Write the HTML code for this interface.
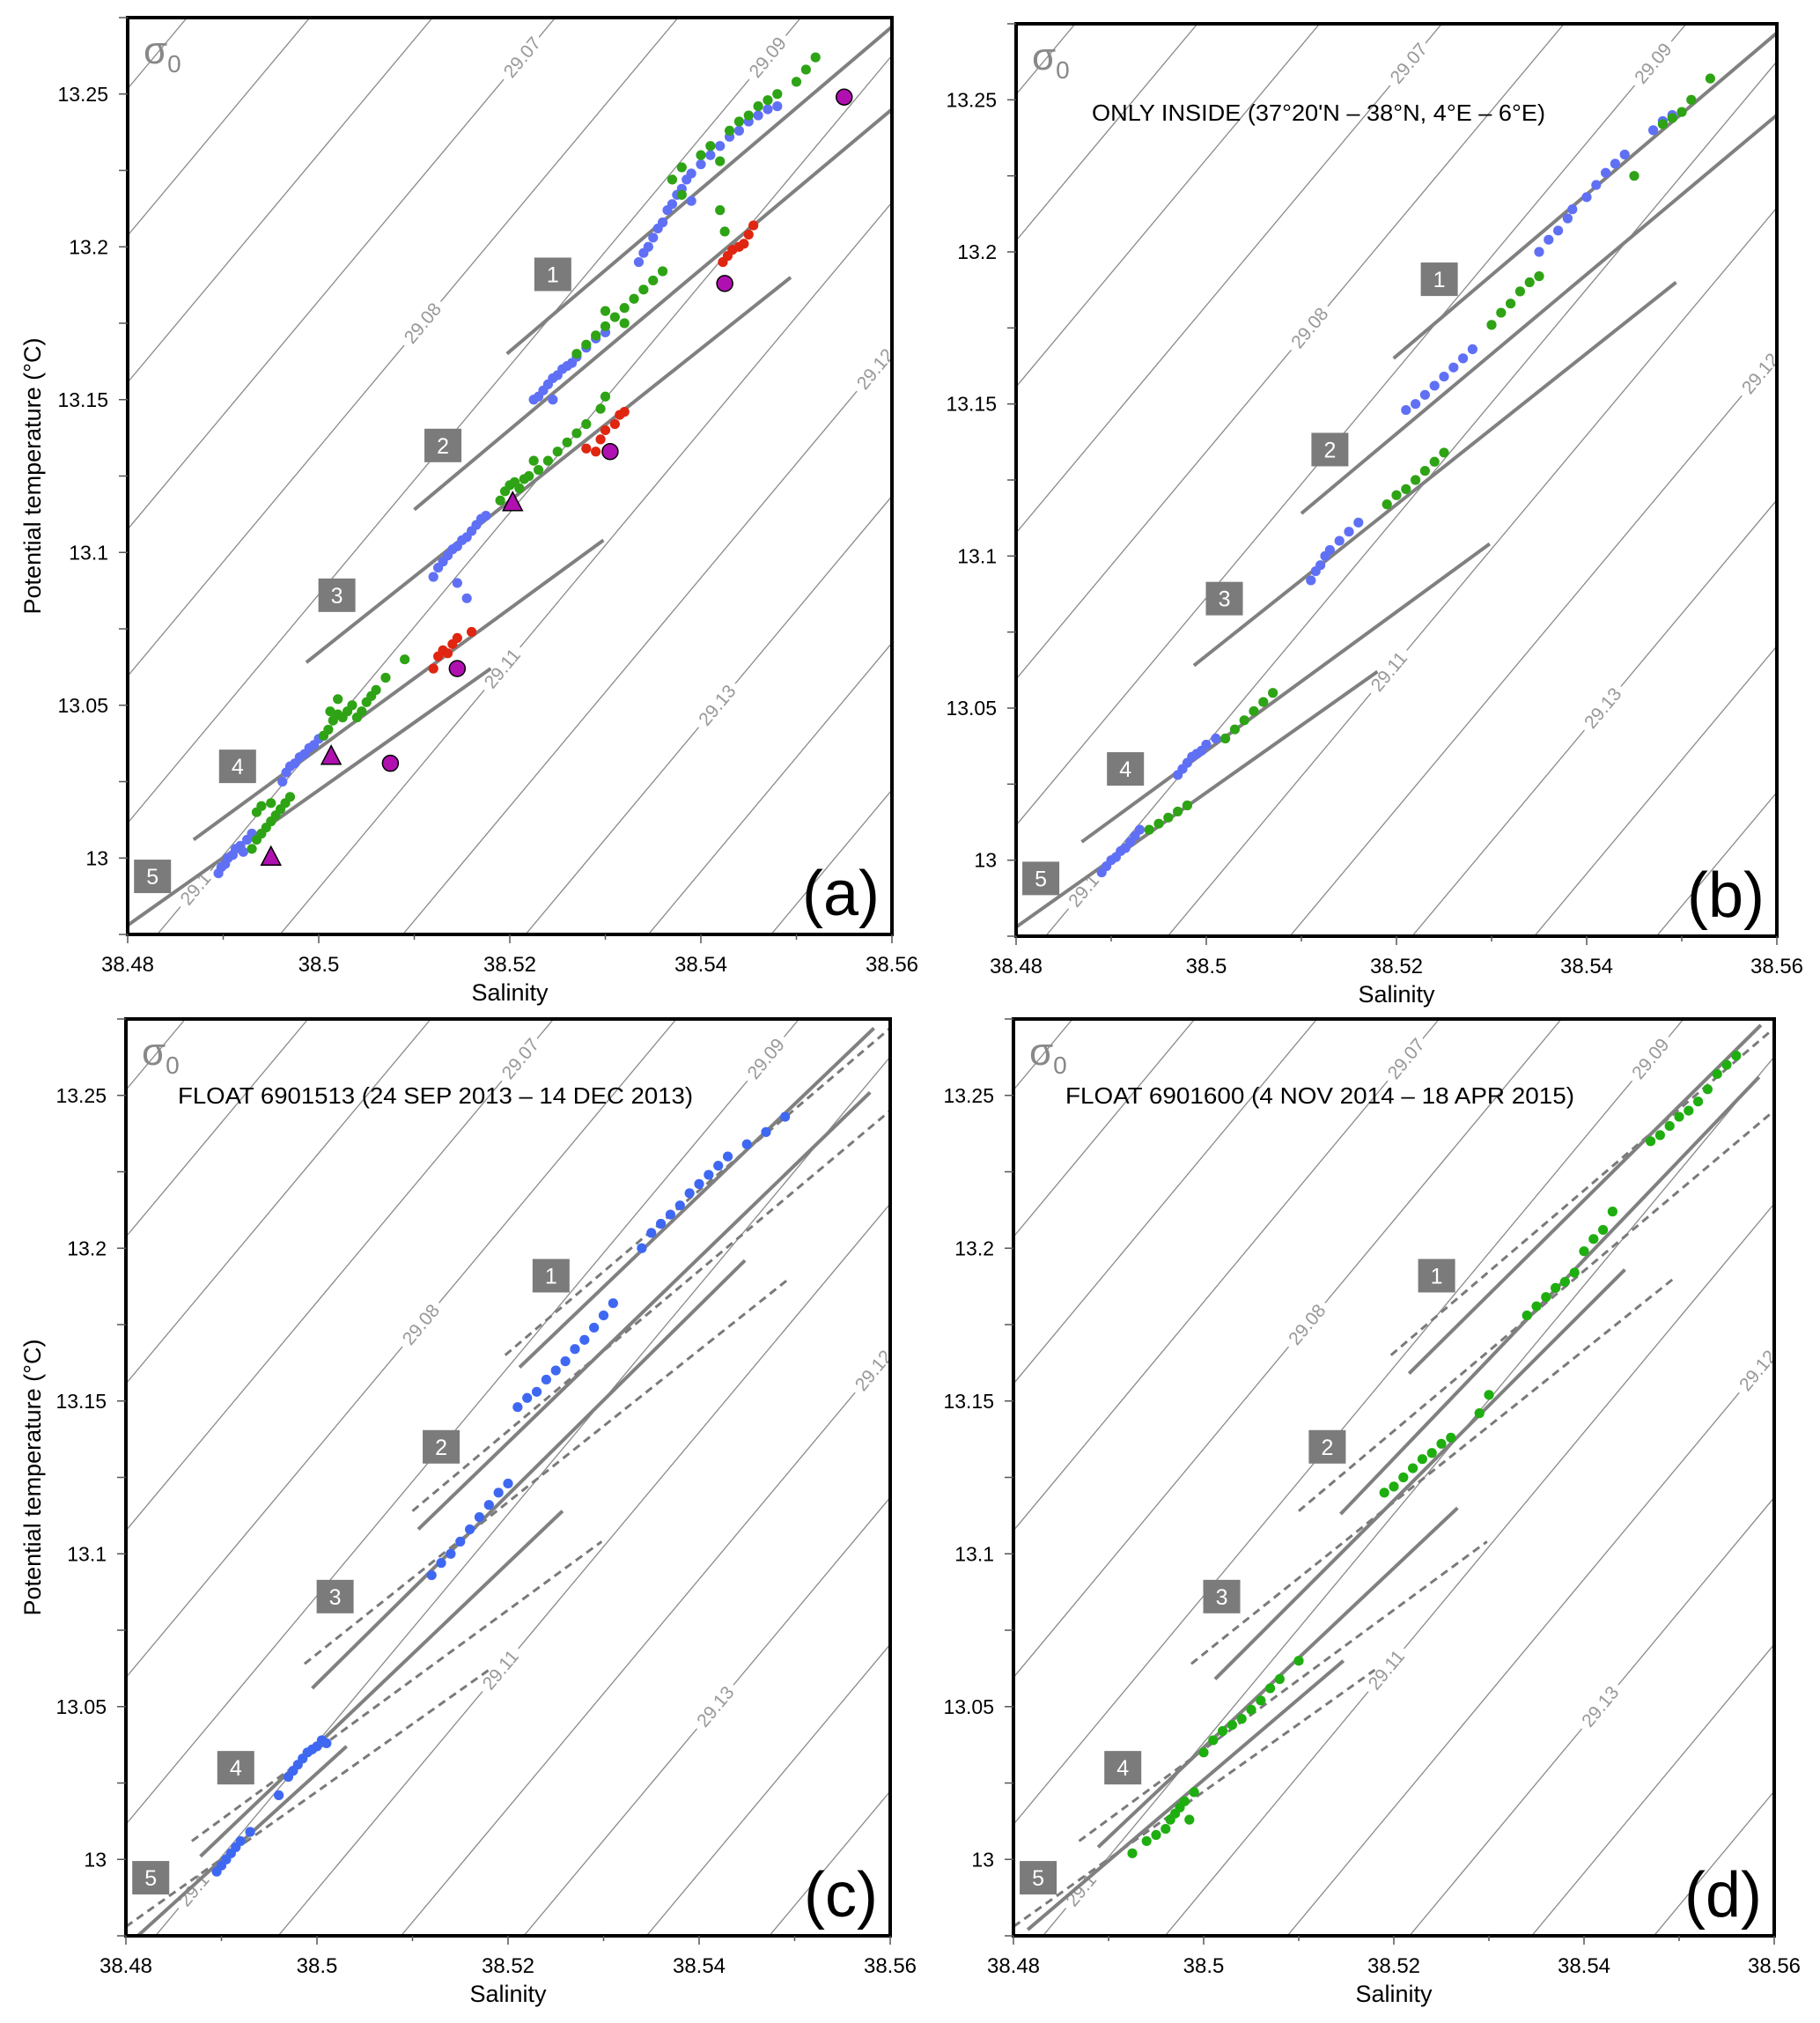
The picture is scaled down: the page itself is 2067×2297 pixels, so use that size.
<!DOCTYPE html>
<html><head><meta charset="utf-8">
<style>
html,body{margin:0;padding:0;background:#fff;}
svg{display:block;font-family:"Liberation Sans","DejaVu Sans",sans-serif;}
</style></head>
<body>
<svg id="fig" width="2067" height="2297" viewBox="0 0 2067 2297" xmlns="http://www.w3.org/2000/svg"></svg>
<script>
// ---------- data ----------
const xTicks = [38.48, 38.5, 38.52, 38.54, 38.56];
const xTickLabels = ["38.48", "38.5", "38.52", "38.54", "38.56"];
const yTicks = [13, 13.05, 13.1, 13.15, 13.2, 13.25];
const yTickLabels = ["13", "13.05", "13.1", "13.15", "13.2", "13.25"];
const sigmaLevels = [29.04,29.05,29.06,29.07,29.08,29.09,29.10,29.11,29.12,29.13,29.14,29.15,29.16,29.17];
const sigmaLabelLevels = [29.07, 29.08, 29.09, 29.10, 29.11, 29.12, 29.13];
const sigmaLabelTemps = [13.262, 13.175, 13.262, 12.99, 13.062, 13.16, 13.05];
const sigmaLabelText = ["29.07", "29.08", "29.09", "29.1", "29.11", "29.12", "29.13"];

const refLines = [
 [38.5197,13.165,38.56,13.272],
 [38.510,13.114,38.56,13.245],
 [38.4987,13.064,38.5494,13.190],
 [38.4869,13.006,38.5298,13.104],
 [38.48,12.978,38.518,13.062]];
const floatLinesC = [
 [38.5212,13.161,38.5583,13.272],
 [38.5106,13.108,38.5579,13.251],
 [38.4995,13.056,38.5448,13.196],
 [38.4878,13.001,38.5257,13.114],
 [38.4809,12.974,38.5031,13.037]];
const floatLinesD = [
 [38.5216,13.159,38.5586,13.273],
 [38.5144,13.113,38.5584,13.256],
 [38.5012,13.059,38.5443,13.193],
 [38.4889,13.004,38.5267,13.115],
 [38.4815,12.977,38.5147,13.065]];
const boxLabels = ["1","2","3","4","5"];
const boxPos = [[38.5245,13.191],[38.5130,13.135],[38.5019,13.086],[38.4915,13.030],[38.4826,12.994]];

const blueA = [[38.4895,12.995],[38.4898,12.997],[38.4902,12.998],[38.4905,13.000],[38.4910,13.001],[38.4913,13.003],[38.4918,13.004],[38.4921,13.002],[38.4925,13.006],[38.4930,13.008],[38.4962,13.025],[38.4966,13.028],[38.4970,13.030],[38.4975,13.031],[38.4980,13.033],[38.4985,13.034],[38.4990,13.036],[38.4995,13.037],[38.5000,13.039],[38.5005,13.040],
[38.5120,13.092],[38.5125,13.095],[38.5130,13.097],[38.5135,13.099],[38.5140,13.101],[38.5145,13.102],[38.5150,13.104],[38.5155,13.105],[38.5160,13.107],[38.5165,13.109],[38.5170,13.111],[38.5175,13.112],[38.5145,13.090],[38.5155,13.085],
[38.5225,13.150],[38.5230,13.151],[38.5235,13.153],[38.5240,13.155],[38.5245,13.157],[38.5250,13.158],[38.5255,13.160],[38.5260,13.161],[38.5265,13.162],[38.5270,13.164],[38.5245,13.150],[38.5280,13.167],[38.5290,13.170],[38.5300,13.172],
[38.5335,13.195],[38.5340,13.198],[38.5345,13.200],[38.5350,13.203],[38.5355,13.206],[38.5360,13.208],[38.5365,13.212],[38.5370,13.214],[38.5375,13.217],[38.5380,13.219],[38.5385,13.222],[38.5390,13.224],[38.5400,13.227],[38.5410,13.230],[38.5420,13.233],[38.5430,13.236],[38.5440,13.238],[38.5450,13.241],[38.5460,13.243],[38.5470,13.245],[38.5480,13.246],[38.5390,13.215]];
const greenA = [[38.4930,13.003],[38.4935,13.006],[38.4940,13.008],[38.4945,13.010],[38.4950,13.012],[38.4955,13.014],[38.4960,13.016],[38.4965,13.018],[38.4950,13.018],[38.4940,13.017],[38.4935,13.015],[38.4970,13.020],
[38.5005,13.040],[38.5010,13.042],[38.5015,13.045],[38.5020,13.047],[38.5025,13.046],[38.5030,13.048],[38.5035,13.050],[38.5040,13.046],[38.5045,13.048],[38.5050,13.051],[38.5055,13.053],[38.5060,13.055],[38.5070,13.059],[38.5012,13.048],[38.5020,13.052],[38.5090,13.065],
[38.5190,13.117],[38.5195,13.120],[38.5200,13.122],[38.5205,13.123],[38.5210,13.121],[38.5215,13.124],[38.5220,13.125],[38.5230,13.127],[38.5240,13.130],[38.5250,13.133],[38.5260,13.136],[38.5270,13.139],[38.5280,13.142],[38.5295,13.147],[38.5300,13.151],[38.5225,13.130],
[38.5270,13.165],[38.5280,13.168],[38.5290,13.171],[38.5300,13.174],[38.5310,13.177],[38.5320,13.180],[38.5330,13.183],[38.5340,13.186],[38.5350,13.189],[38.5360,13.192],[38.5300,13.179],[38.5320,13.175],
[38.5370,13.222],[38.5380,13.226],[38.5400,13.230],[38.5410,13.233],[38.5420,13.228],[38.5430,13.238],[38.5440,13.241],[38.5450,13.243],[38.5460,13.246],[38.5470,13.248],[38.5480,13.250],[38.5500,13.254],[38.5510,13.258],[38.5520,13.262],[38.5420,13.212],[38.5425,13.205],[38.5380,13.217]];
const redA = [[38.512,13.062],[38.5125,13.066],[38.513,13.068],[38.5135,13.067],[38.514,13.070],[38.5145,13.072],[38.516,13.074],[38.528,13.134],[38.529,13.133],[38.5295,13.137],[38.530,13.140],[38.531,13.142],[38.5315,13.145],[38.532,13.146],[38.5423,13.195],[38.5428,13.197],[38.5433,13.199],[38.5440,13.200],[38.5445,13.201],[38.5450,13.204],[38.5455,13.207]];
const circlesA = [[38.555,13.249],[38.5425,13.188],[38.5305,13.133],[38.5145,13.062],[38.5075,13.031]];
const trianglesA = [[38.495,13.000],[38.5013,13.033],[38.5203,13.116]];

const blueB = [[38.4890,12.996],[38.4895,12.998],[38.4900,13.000],[38.4905,13.001],[38.4910,13.003],[38.4915,13.004],[38.4920,13.006],[38.4925,13.008],[38.4930,13.010],[38.4970,13.028],[38.4975,13.030],[38.4980,13.032],[38.4985,13.034],[38.4990,13.035],[38.4995,13.036],[38.5000,13.038],[38.5010,13.040],
[38.5110,13.092],[38.5115,13.095],[38.5120,13.097],[38.5125,13.100],[38.5130,13.102],[38.5140,13.105],[38.5150,13.108],[38.5160,13.111],
[38.5210,13.148],[38.5220,13.150],[38.5230,13.153],[38.5240,13.156],[38.5250,13.159],[38.5260,13.162],[38.5270,13.165],[38.5280,13.168],
[38.5350,13.200],[38.5360,13.204],[38.5370,13.207],[38.5380,13.211],[38.5385,13.214],[38.5400,13.218],[38.5410,13.222],[38.5420,13.226],[38.5430,13.229],[38.5440,13.232],[38.5470,13.240],[38.5480,13.243],[38.5490,13.245]];
const greenB = [[38.4940,13.010],[38.4950,13.012],[38.4960,13.014],[38.4970,13.016],[38.4980,13.018],[38.5020,13.040],[38.5030,13.043],[38.5040,13.046],[38.5050,13.049],[38.5060,13.052],[38.5070,13.055],
[38.5190,13.117],[38.5200,13.120],[38.5210,13.122],[38.5220,13.125],[38.5230,13.128],[38.5240,13.131],[38.5250,13.134],
[38.5300,13.176],[38.5310,13.180],[38.5320,13.183],[38.5330,13.187],[38.5340,13.190],[38.5350,13.192],
[38.5450,13.225],[38.5480,13.242],[38.5490,13.244],[38.5500,13.246],[38.5510,13.250],[38.5530,13.257]];
const blueC = [[38.4895,12.996],[38.4900,12.998],[38.4905,13.000],[38.4910,13.002],[38.4915,13.004],[38.4920,13.006],[38.4930,13.009],[38.4960,13.021],[38.4970,13.027],[38.4975,13.029],[38.4980,13.031],[38.4985,13.033],[38.4990,13.035],[38.4995,13.036],[38.5000,13.037],[38.5005,13.039],[38.5010,13.038],
[38.5120,13.093],[38.5130,13.097],[38.5140,13.100],[38.5150,13.104],[38.5160,13.108],[38.5170,13.112],[38.5180,13.116],[38.5190,13.120],[38.5200,13.123],
[38.5210,13.148],[38.5220,13.151],[38.5230,13.153],[38.5240,13.157],[38.5250,13.160],[38.5260,13.163],[38.5270,13.167],[38.5280,13.170],[38.5290,13.174],[38.5300,13.178],[38.5310,13.182],
[38.5340,13.200],[38.5350,13.205],[38.5360,13.208],[38.5370,13.211],[38.5380,13.214],[38.5390,13.218],[38.5400,13.221],[38.5410,13.224],[38.5420,13.227],[38.5430,13.230],[38.5450,13.234],[38.5470,13.238],[38.5490,13.243]];
const greenD = [[38.4925,13.002],[38.4940,13.006],[38.4950,13.008],[38.4960,13.010],[38.4965,13.013],[38.4970,13.015],[38.4975,13.017],[38.4980,13.019],[38.4990,13.022],[38.4985,13.013],
[38.5000,13.035],[38.5010,13.039],[38.5020,13.042],[38.5030,13.044],[38.5040,13.046],[38.5050,13.049],[38.5060,13.052],[38.5070,13.056],[38.5080,13.059],[38.5100,13.065],
[38.5190,13.120],[38.5200,13.122],[38.5210,13.125],[38.5220,13.128],[38.5230,13.131],[38.5240,13.133],[38.5250,13.136],[38.5260,13.138],[38.5290,13.146],[38.5300,13.152],
[38.5340,13.178],[38.5350,13.181],[38.5360,13.184],[38.5370,13.187],[38.5380,13.189],[38.5390,13.192],[38.5400,13.199],[38.5410,13.203],[38.5420,13.206],[38.5430,13.212],
[38.5470,13.235],[38.5480,13.237],[38.5490,13.240],[38.5500,13.243],[38.5510,13.245],[38.5520,13.248],[38.5530,13.252],[38.5540,13.257],[38.5550,13.260],[38.5560,13.263]];

// ---------- drawing ----------
const NS = "http://www.w3.org/2000/svg";
const svg = document.getElementById("fig");
const S0 = 38.48, S1 = 38.56, T0 = 12.975, T1 = 13.275;
const SLOPE = 3.74, SPACING = 1.285, SREF = 38.4831;
function mk(tag, attrs, parent){ const e = document.createElementNS(NS, tag); for (const k in attrs) e.setAttribute(k, attrs[k]); (parent||svg).appendChild(e); return e; }

const panels = [
 {id:"a", x0:145, x1:1013, y0:20, y1:1061, ylab:true, letter:"(a)"},
 {id:"b", x0:1154, x1:2018, y0:27, y1:1063, ylab:false, letter:"(b)", note:"ONLY INSIDE (37°20'N – 38°N, 4°E – 6°E)", nlen:515},
 {id:"c", x0:143, x1:1011, y0:1157, y1:2198, ylab:true, letter:"(c)", note:"FLOAT 6901513  (24 SEP 2013 – 14 DEC 2013)", nlen:585},
 {id:"d", x0:1151, x1:2015, y0:1157, y1:2198, ylab:false, letter:"(d)", note:"FLOAT 6901600  (4 NOV 2014 – 18 APR 2015)", nlen:578}];

panels.forEach(p => {
  const X = s => p.x0 + (s - S0) / (S1 - S0) * (p.x1 - p.x0);
  const Y = t => p.y1 - (t - T0) / (T1 - T0) * (p.y1 - p.y0);
  const g = mk("g", {});
  
  
  const cp = mk("clipPath", {id:"clip"+p.id}, g);
  mk("rect", {x:p.x0, y:p.y0, width:p.x1-p.x0, height:p.y1-p.y0}, cp);
  const plot = mk("g", {"clip-path":"url(#clip"+p.id+")"}, g);

  const iso = mk("g", {}, plot);
  
  
  const sAt = (sig, t) => SREF + (sig - 29.10) * SPACING + (t - T0) / SLOPE;
  sigmaLevels.forEach(sig => {
    const l = mk("line", {x1:X(sAt(sig,T0-0.02)), y1:Y(T0-0.02), x2:X(sAt(sig,T1+0.02)), y2:Y(T1+0.02), stroke:"#8a8a8a", "stroke-width":1.3}, iso);
    
    
  });
  const ang = -Math.atan(SLOPE * (p.y1-p.y0)/(T1-T0) / ((p.x1-p.x0)/(S1-S0))) * 180 / Math.PI;
  sigmaLabelLevels.forEach((sig, i) => {
    const t = sigmaLabelTemps[i], cx = X(sAt(sig, t)), cy = Y(t);
    const tx = mk("text", {x:cx, y:cy+7, "font-size":21, fill:"#999", "text-anchor":"middle", stroke:"#fff", "stroke-width":14, "paint-order":"stroke", transform:`rotate(${ang} ${cx} ${cy})`}, iso);
    tx.textContent = sigmaLabelText[i];
    
    
  });

  const drawLines = (arr, dashed, name) => arr.forEach(l => {
    const e = mk("line", {x1:X(l[0]), y1:Y(l[1]), x2:X(l[2]), y2:Y(l[3]), stroke: dashed ? "#7a7a7a" : "#808080", "stroke-width": dashed ? 3 : 4, "stroke-dasharray": dashed ? "9 6" : "none"}, plot);
    
    
  });
  if (p.id === "a" || p.id === "b") drawLines(refLines, false, 'layer-boundary-line');
  else { drawLines(refLines, true, 'reference-boundary-line'); drawLines(p.id === "c" ? floatLinesC : floatLinesD, false, 'float-boundary-line'); }

  boxPos.forEach((b, i) => {
    const cx = X(b[0]), cy = Y(b[1]);
    const r = mk("rect", {x:cx-21, y:cy-19, width:42, height:38, fill:"#7b7b7b"}, plot);
    
    
    const t = mk("text", {x:cx, y:cy+9, "font-size":25, fill:"#fff", "text-anchor":"middle"}, plot);
    t.textContent = boxLabels[i];
    
    
  });

  const dots = (arr, color, name) => arr.forEach(d => {
    const c = mk("circle", {cx:X(d[0]), cy:Y(d[1]), r:5.6, fill:color}, plot);
    
    
  });
  if (p.id === "a") {
    dots(blueA, "#6070f5", 'blue-point'); dots(greenA, "#2ea315", 'green-point'); dots(redA, "#e02510", 'red-point');
    circlesA.forEach(d => {
      const c = mk("circle", {cx:X(d[0]), cy:Y(d[1]), r:9, fill:"#b010b0", stroke:"#000", "stroke-width":1.5}, plot);
      
      
    });
    trianglesA.forEach(d => {
      const x = X(d[0]), y = Y(d[1]);
      const tr = mk("polygon", {points:`${x},${y-13} ${x-11},${y+8} ${x+11},${y+8}`, fill:"#b010b0", stroke:"#000", "stroke-width":1.5}, plot);
      
      
    });
  } else if (p.id === "b") { dots(blueB, "#6070f5", 'blue-point'); dots(greenB, "#2ea315", 'green-point'); }
  else if (p.id === "c") dots(blueC, "#3f68f2", 'blue-point');
  else dots(greenD, "#1fae10", 'green-point');

  const sg = mk("text", {x:p.x0+18, y:p.y0+52, "font-size":44, fill:"#888"}, g);
  sg.textContent = "σ";
  
  
  const sub = mk("tspan", {"font-size":28, dy:10}, sg);
  sub.textContent = "0";

  if (p.note) {
    const nt = mk("text", {x:p.x0+(p.id==="b"?86:59), y:p.y0+(p.id==="b"?110:96), "font-size":26, fill:"#000", textLength:p.nlen, lengthAdjust:"spacingAndGlyphs"}, g);
    nt.textContent = p.note;
    
    
  }
  const lt = mk("text", {x:p.x1-14, y:p.y1-22, "font-size":72, fill:"#000", "text-anchor":"end"}, g);
  lt.textContent = p.letter;
  
  

  const fr = mk("rect", {x:p.x0, y:p.y0, width:p.x1-p.x0, height:p.y1-p.y0, fill:"none", stroke:"#000", "stroke-width":4}, g);
  
  

  const xa = mk("g", {}, g);
  
  
  for (let k = 0; k <= 8; k++) {
    const s = S0 + k * 0.01, x = X(s);
    mk("line", {x1:x, y1:p.y1, x2:x, y2:p.y1 + (k%2===0 ? 10 : 6), stroke:"#555", "stroke-width":1.5}, xa);
  }
  xTicks.forEach((s, i) => {
    const t = mk("text", {x:X(s), y:p.y1+42, "font-size":24, "text-anchor":"middle", fill:"#000"}, xa);
    t.textContent = xTickLabels[i];
    
    
  });
  const xt = mk("text", {x:(p.x0+p.x1)/2, y:p.y1+75, "font-size":27, "text-anchor":"middle", fill:"#000"}, xa);
  xt.textContent = "Salinity";
  
  

  const ya = mk("g", {}, g);
  
  
  for (let k = 0; k <= 12; k++) {
    const t = T0 + k * 0.025, y = Y(t);
    mk("line", {x1:p.x0-10, y1:y, x2:p.x0, y2:y, stroke:"#555", "stroke-width":1.5}, ya);
  }
  yTicks.forEach((t, i) => {
    const e = mk("text", {x:p.x0-22, y:Y(t)+8, "font-size":23, "text-anchor":"end", fill:"#000"}, ya);
    e.textContent = yTickLabels[i];
    
    
  });
  if (p.ylab) {
    const cy = (p.y0+p.y1)/2;
    const yt = mk("text", {x:37, y:cy, "font-size":27, "text-anchor":"middle", fill:"#000", transform:`rotate(-90 37 ${cy})`, dy:9}, ya);
    yt.textContent = "Potential temperature (°C)";
    
    
  }
});
</script>
</body></html>
